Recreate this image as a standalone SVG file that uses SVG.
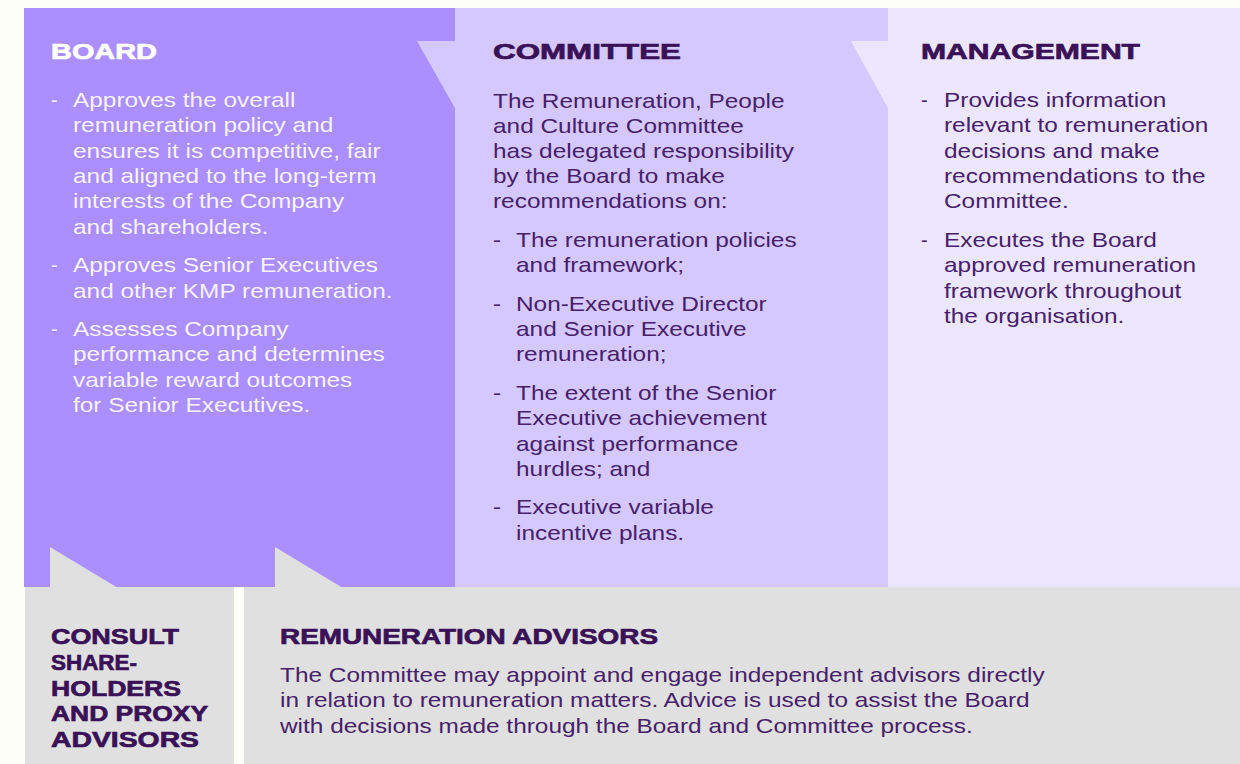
<svg xmlns="http://www.w3.org/2000/svg" width="1240" height="764" viewBox="0 0 1240 764">
<style>
.h{font-family:"Liberation Sans",Arial,sans-serif;font-weight:bold;font-size:22px;fill:#3a1157;stroke:#3a1157;stroke-width:0.7;}
.hw{fill:#ffffff;stroke:#ffffff;}
.b{font-family:"Liberation Sans",Arial,sans-serif;font-size:20px;fill:#47206a;}
.bw{fill:#f7f3ff;}
</style>
<rect x="0" y="0" width="1240" height="764" fill="#fdfef8"/>
<g id="board">
<rect x="24" y="8" width="432" height="579" fill="#ab8eff"/>
<text class="h hw" x="51" y="59" textLength="106" lengthAdjust="spacingAndGlyphs">BOARD</text>
<text class="b bw" x="51" y="107">-</text>
<text class="b bw" x="51" y="272">-</text>
<text class="b bw" x="51" y="336">-</text>
<g transform="translate(73 1) scale(1.22 1)">
<text class="b bw" x="0" y="106">Approves the overall</text>
<text class="b bw" x="0" y="131">remuneration policy and</text>
<text class="b bw" x="0" y="157">ensures it is competitive, fair</text>
<text class="b bw" x="0" y="182">and aligned to the long-term</text>
<text class="b bw" x="0" y="207">interests of the Company</text>
<text class="b bw" x="0" y="233">and shareholders.</text>
<text class="b bw" x="0" y="271">Approves Senior Executives</text>
<text class="b bw" x="0" y="297">and other KMP remuneration.</text>
<text class="b bw" x="0" y="335">Assesses Company</text>
<text class="b bw" x="0" y="360">performance and determines</text>
<text class="b bw" x="0" y="386">variable reward outcomes</text>
<text class="b bw" x="0" y="411">for Senior Executives.</text>
</g>
</g>
<g id="committee">
<rect x="455" y="8" width="433" height="579" fill="#d4c8ff"/>
<text class="h" x="493" y="59" textLength="188" lengthAdjust="spacingAndGlyphs">COMMITTEE</text>
<g transform="translate(493 1) scale(1.22 1)">
<text class="b" x="0" y="107">The Remuneration, People</text>
<text class="b" x="0" y="132">and Culture Committee</text>
<text class="b" x="0" y="157">has delegated responsibility</text>
<text class="b" x="0" y="182">by the Board to make</text>
<text class="b" x="0" y="207">recommendations on:</text>
<text class="b" x="0" y="246">-</text>
<text class="b" x="0" y="310">-</text>
<text class="b" x="0" y="399">-</text>
<text class="b" x="0" y="513">-</text>
</g>
<g transform="translate(516 1) scale(1.22 1)">
<text class="b" x="0" y="246">The remuneration policies</text>
<text class="b" x="0" y="271">and framework;</text>
<text class="b" x="0" y="310">Non-Executive Director</text>
<text class="b" x="0" y="335">and Senior Executive</text>
<text class="b" x="0" y="360">remuneration;</text>
<text class="b" x="0" y="399">The extent of the Senior</text>
<text class="b" x="0" y="424">Executive achievement</text>
<text class="b" x="0" y="450">against performance</text>
<text class="b" x="0" y="475">hurdles; and</text>
<text class="b" x="0" y="513">Executive variable</text>
<text class="b" x="0" y="539">incentive plans.</text>
</g>
</g>
<g id="management">
<rect x="888" y="8" width="352" height="579" fill="#ede6ff"/>
<text class="h" x="921" y="59" textLength="219" lengthAdjust="spacingAndGlyphs">MANAGEMENT</text>
<text class="b" x="921" y="107">-</text>
<text class="b" x="921" y="247">-</text>
<g transform="translate(944 1) scale(1.22 1)">
<text class="b" x="0" y="106">Provides information</text>
<text class="b" x="0" y="131">relevant to remuneration</text>
<text class="b" x="0" y="157">decisions and make</text>
<text class="b" x="0" y="182">recommendations to the</text>
<text class="b" x="0" y="207">Committee.</text>
<text class="b" x="0" y="246">Executes the Board</text>
<text class="b" x="0" y="271">approved remuneration</text>
<text class="b" x="0" y="297">framework throughout</text>
<text class="b" x="0" y="322">the organisation.</text>
</g>
</g>
<g id="consult">
<rect x="25" y="587" width="209" height="177" fill="#e0e0e0"/>
<text class="h" x="51" y="644" textLength="128" lengthAdjust="spacingAndGlyphs">CONSULT</text>
<text class="h" x="51" y="670" textLength="86" lengthAdjust="spacingAndGlyphs">SHARE-</text>
<text class="h" x="51" y="696" textLength="130" lengthAdjust="spacingAndGlyphs">HOLDERS</text>
<text class="h" x="51" y="721" textLength="157" lengthAdjust="spacingAndGlyphs">AND PROXY</text>
<text class="h" x="51" y="747" textLength="148" lengthAdjust="spacingAndGlyphs">ADVISORS</text>
</g>
<g id="advisors">
<rect x="244" y="587" width="996" height="177" fill="#e0e0e0"/>
<text class="h" x="280" y="644" textLength="378" lengthAdjust="spacingAndGlyphs">REMUNERATION ADVISORS</text>
<g transform="translate(280 1) scale(1.22 1)">
<text class="b" x="0" y="681">The Committee may appoint and engage independent advisors directly</text>
<text class="b" x="0" y="706">in relation to remuneration matters. Advice is used to assist the Board</text>
<text class="b" x="0" y="732">with decisions made through the Board and Committee process.</text>
</g>
</g>
<g id="connectors">
<polygon points="417,41 456,41 456,110" fill="#d4c8ff"/>
<polygon points="851,41 889,41 889,110" fill="#ede6ff"/>
<polygon points="50,547 50,588 118,588" fill="#e0e0e0"/>
<polygon points="275,547 275,588 343,588" fill="#e0e0e0"/>
</g>
</svg>
